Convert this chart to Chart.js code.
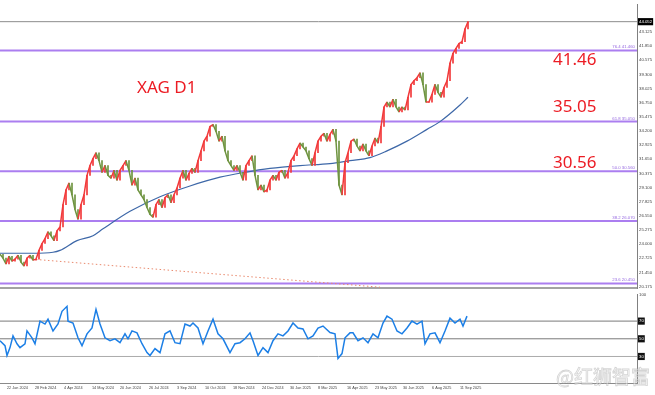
<!DOCTYPE html>
<html>
<head>
<meta charset="utf-8">
<script src="https://cdn.jsdelivr.net/npm/chart.js@4.4.1/dist/chart.umd.min.js"></script>
<style>
html, body { margin: 0; padding: 0; background: #fff; }
#wrap { position: relative; width: 655px; height: 395px; overflow: hidden; }
#price { position: absolute; left: 0; top: 0; }
#rsi { position: absolute; left: 0; top: 290px; }
</style>
</head>
<body>
<div id="wrap">
  <canvas id="price" width="655" height="293"></canvas>
  <canvas id="rsi" width="655" height="105"></canvas>
</div>
<script>
// daily closes, one every 3 bars
var barStep = 3;
var closes = [
  23.08, 22.73, 22.20, 22.90, 22.46, 22.64, 22.99, 22.37, 22.02, 22.73,
  22.99, 22.55, 22.64, 23.43, 24.05, 24.49, 25.10, 24.75, 24.31, 25.19,
  25.54, 27.56, 28.88, 29.50, 28.44, 27.12, 26.24, 27.56, 28.44, 30.20,
  31.08, 31.70, 32.23, 31.52, 30.47, 31.08, 30.20, 29.94, 30.64, 29.76,
  30.64, 31.08, 31.52, 30.64, 29.32, 29.94, 28.88, 28.44, 28.00, 27.30,
  26.68, 26.42, 27.56, 28.00, 27.30, 28.18, 28.44, 27.74, 28.44, 29.06,
  29.94, 30.64, 29.76, 30.38, 30.82, 30.47, 31.52, 32.40, 33.28, 33.72,
  34.60, 34.78, 34.16, 33.28, 33.72, 32.40, 31.52, 31.08, 30.64, 31.08,
  30.47, 29.76, 31.08, 31.52, 31.96, 30.20, 28.88, 29.32, 28.71, 28.88,
  29.76, 30.20, 29.76, 30.47, 30.64, 29.94, 30.47, 31.52, 31.96, 32.58,
  33.11, 32.75, 32.40, 31.70, 31.08, 32.23, 33.28, 33.72, 33.98, 33.28,
  33.90, 34.34, 33.28, 29.32, 28.44, 31.34, 32.23, 33.28, 33.46, 32.84,
  32.40, 33.02, 32.40, 31.96, 32.84, 33.55, 33.11, 34.60, 36.36, 36.80,
  36.36, 37.06, 36.36, 35.92, 36.36, 36.09, 37.24, 38.38, 38.73, 39.00,
  39.44, 38.38, 36.80, 36.80, 37.50, 38.38, 37.68, 37.24, 38.12, 38.73,
  40.32, 41.20, 41.64, 42.08, 42.25, 43.40, 44.05
];

var maBars = [0, 33, 53, 60, 77, 93, 103, 130, 160, 190, 220, 245, 270, 300, 330, 350, 370, 387, 407, 427, 440, 460, 468];
var maValues = [23.17, 23.17, 23.26, 23.43, 24.31, 24.75, 25.37, 26.95, 28.27, 29.24, 30.03, 30.47, 30.82, 31.08, 31.26, 31.52, 31.79, 32.40, 33.28, 34.34, 35.04, 36.54, 37.24];

var trendBars = [32, 380];
var trendValues = [22.64, 20.11];

var fibNames = ['76.4', '61.8', '50.0', '38.2', '23.6'];
var fibLevels = [41.46, 35.05, 30.56, 26.07, 20.45];
var lastPrice = 44.052;

var priceTicks = [20.175, 21.450, 22.725, 24.000, 25.275, 26.550, 27.825, 29.100, 30.375, 31.650,
  32.925, 34.200, 35.475, 36.750, 38.025, 39.300, 40.575, 41.850, 43.125, 44.052];

var rsiBars = [0, 5, 7, 10, 13, 17, 20, 25, 27, 32, 35, 40, 45, 48, 53, 58, 62, 67, 68, 73,
  78, 82, 87, 92, 96, 100, 105, 110, 115, 120, 125, 128, 132, 137, 142, 147, 150, 155, 160, 165,
  170, 175, 180, 185, 190, 193, 198, 203, 208, 213, 218, 223, 230, 235, 240, 245, 250, 253, 258, 263,
  268, 273, 278, 283, 288, 293, 298, 303, 308, 313, 318, 323, 330, 335, 338, 342, 345, 350, 353, 358,
  363, 368, 373, 378, 383, 387, 392, 397, 402, 407, 412, 417, 422, 425, 430, 435, 440, 445, 450, 455,
  460, 463, 467];
var rsiValues = [47.8, 42.2, 31.1, 40.0, 53.3, 44.4, 40.0, 44.4, 58.9, 51.1, 44.4, 70.0, 66.7, 72.2, 58.9, 66.7, 81.1, 86.7, 70.0, 67.8,
  51.1, 42.2, 55.6, 62.2, 83.3, 66.7, 51.1, 47.8, 50.0, 45.6, 55.6, 50.0, 58.9, 56.7, 44.4, 34.4, 31.1, 38.9, 34.4, 55.6,
  58.9, 45.6, 44.4, 66.7, 64.4, 67.8, 62.2, 44.4, 58.9, 72.2, 55.6, 50.0, 34.4, 44.4, 45.6, 50.0, 56.7, 47.8, 31.1, 40.0,
  34.4, 47.8, 55.6, 53.3, 58.9, 67.8, 62.2, 61.1, 50.0, 53.3, 62.2, 64.4, 57.0, 55.6, 27.8, 33.3, 51.1, 56.7, 56.7, 47.8,
  51.1, 45.6, 55.6, 51.1, 67.8, 75.6, 72.2, 58.9, 55.6, 62.2, 70.0, 66.7, 70.0, 44.4, 55.6, 56.7, 45.6, 58.9, 73.3, 67.8,
  72.2, 64.4, 75.6];
var rsiLevels = [70, 50, 30];
var rsiTicks = [100, 70, 50, 30];

var dateLabels = ['22 Jan 2024', '28 Feb 2024', '4 Apr 2024', '14 May 2024', '20 Jun 2024', '26 Jul 2024',
  '3 Sep 2024', '10 Oct 2024', '18 Nov 2024', '24 Dec 2024', '30 Jan 2025', '8 Mar 2025', '16 Apr 2025',
  '23 May 2025', '30 Jun 2025', '6 Aug 2025', '11 Sep 2025'];
var dateBars = [7, 35, 64, 92, 120, 149, 177, 205, 233, 262, 290, 318, 347, 375, 403, 432, 460];

var xMax = 637;
var upColor = '#f2393a';
var downColor = '#6f9440';
var fibColor = '#ab7ef0';
var axisFont = {family: 'Liberation Sans', size: 4.3};
var dateFont = {family: 'Liberation Sans', size: 3.8};
var noGrid = { display: false, drawTicks: false, tickLength: 0 };

function pts(xs, ys) {
  return xs.map((x, i) => ({x: x, y: ys[i]}));
}

function hline(v, color, width, order) {
  return {
    type: 'line', data: [{x: 0, y: v}, {x: xMax, y: v}],
    borderColor: color, borderWidth: width, pointRadius: 0, order: order
  };
}

var closePoints = closes.map((c, i) => ({x: i * barStep, y: c}));
var bodies = closes.map((c, i) => ({x: i * barStep, y: [i > 0 ? closes[i - 1] : c, c]}));

var priceSets = [
  {
    type: 'line', data: closePoints, borderWidth: 1.5, pointRadius: 0, order: 0,
    segment: { borderColor: c => c.p1.parsed.y >= c.p0.parsed.y ? upColor : downColor }
  },
  {
    type: 'bar', data: bodies, barThickness: 1, grouped: false, order: 1,
    backgroundColor: c => (c.raw && c.raw.y[1] >= c.raw.y[0]) ? upColor : downColor
  },
  {
    type: 'line', data: pts(maBars, maValues), borderColor: '#3e68a8', borderWidth: 1.2,
    pointRadius: 0, cubicInterpolationMode: 'monotone', order: 2
  },
  {
    type: 'line', data: pts(trendBars, trendValues), borderColor: '#e98a6e', borderWidth: 1,
    borderDash: [1.5, 2.5], pointRadius: 0, order: 3
  },
  hline(lastPrice, '#8c8c8c', 1, 5)
];
fibLevels.forEach(v => priceSets.push(hline(v, fibColor, 2, 4)));

var priceText = {
  id: 'priceText',
  afterDatasetsDraw(chart) {
    var ctx = chart.ctx;
    var y = chart.scales.y;
    ctx.save();
    ctx.font = '4.3px "Liberation Sans"';
    ctx.fillStyle = '#9466e0';
    ctx.textAlign = 'right';
    ctx.textBaseline = 'bottom';
    fibLevels.forEach((v, i) => {
      ctx.fillText(fibNames[i] + ' ' + v.toFixed(3), chart.chartArea.right - 2, y.getPixelForValue(v) - 1);
    });
    ctx.font = '17px "Noto Sans"';
    ctx.fillStyle = '#ec1c24';
    ctx.textAlign = 'left';
    ctx.textBaseline = 'alphabetic';
    ctx.fillText('XAG D1', 137, 93);
    ctx.fillText('41.46', 553, 65);
    ctx.fillText('35.05', 553, 112);
    ctx.fillText('30.56', 553, 168);
    ctx.restore();
  }
};

new Chart(document.getElementById('price'), {
  type: 'bar',
  data: { datasets: priceSets },
  options: {
    responsive: false,
    animation: false,
    events: [],
    layout: { padding: 0 },
    plugins: { legend: { display: false }, tooltip: { enabled: false } },
    scales: {
      x: {
        type: 'linear', min: 0, max: xMax, offset: false,
        grid: noGrid,
        ticks: { display: false },
        border: { color: '#a3a3a3', width: 2 },
        afterFit: s => { s.height = 2; }
      },
      y: {
        position: 'right', min: 20.00, max: 45.594,
        grid: noGrid,
        border: { color: '#808080', width: 1 },
        afterFit: s => { s.width = 18; },
        afterBuildTicks: s => { s.ticks = priceTicks.map(v => ({value: v})); },
        ticks: {
          autoSkip: false, padding: 2, font: axisFont,
          callback: v => v.toFixed(3),
          color: c => (c.tick && c.tick.value === lastPrice) ? '#fff' : '#444',
          showLabelBackdrop: true,
          backdropPadding: 1,
          backdropColor: c => (c.tick && c.tick.value === lastPrice) ? '#000' : 'rgba(0,0,0,0)'
        }
      }
    }
  },
  plugins: [priceText]
});

var rsiSets = [
  {
    type: 'line', data: pts(rsiBars, rsiValues), borderColor: '#1c7fe6', borderWidth: 1.5,
    pointRadius: 0, order: 0
  }
];
rsiLevels.forEach((v, i) => rsiSets.push(hline(v, i < 2 ? '#7a7a7a' : '#ababab', 1, 1)));

var watermark = {
  id: 'watermark',
  afterDraw(chart) {
    var ctx = chart.ctx;
    ctx.save();
    ctx.font = '19px "Noto Sans CJK SC"';
    ctx.textAlign = 'left';
    ctx.textBaseline = 'alphabetic';
    ctx.lineWidth = 0.8;
    ctx.fillStyle = 'rgba(255,255,255,0.5)';
    ctx.strokeStyle = 'rgba(170,170,170,0.5)';
    ctx.fillText('@红狮智富', 556, 94);
    ctx.strokeText('@红狮智富', 556, 94);
    ctx.restore();
  }
};

new Chart(document.getElementById('rsi'), {
  type: 'line',
  data: { datasets: rsiSets },
  options: {
    responsive: false,
    animation: false,
    events: [],
    layout: { padding: { top: 3 } },
    plugins: { legend: { display: false }, tooltip: { enabled: false } },
    scales: {
      x: {
        type: 'linear', min: 0, max: xMax, offset: false,
        grid: noGrid,
        border: { color: '#8a8a8a', width: 1 },
        afterFit: s => { s.height = 12; },
        afterBuildTicks: s => { s.ticks = dateBars.map(v => ({value: v})); },
        ticks: {
          autoSkip: false, maxRotation: 0, align: 'start', padding: 3, font: dateFont, color: '#444',
          callback: v => dateLabels[dateBars.indexOf(v)]
        }
      },
      y: {
        position: 'right', min: 0, max: 100,
        grid: noGrid,
        border: { color: '#808080', width: 1 },
        afterFit: s => { s.width = 18; },
        afterBuildTicks: s => { s.ticks = rsiTicks.map(v => ({value: v})); },
        ticks: {
          autoSkip: false, padding: 2, font: axisFont,
          color: c => (c.tick && c.tick.value < 100) ? '#fff' : '#444',
          showLabelBackdrop: true,
          backdropPadding: 1,
          backdropColor: c => (c.tick && c.tick.value < 100) ? '#111' : 'rgba(0,0,0,0)'
        }
      }
    }
  },
  plugins: [watermark]
});
</script>
</body>
</html>
